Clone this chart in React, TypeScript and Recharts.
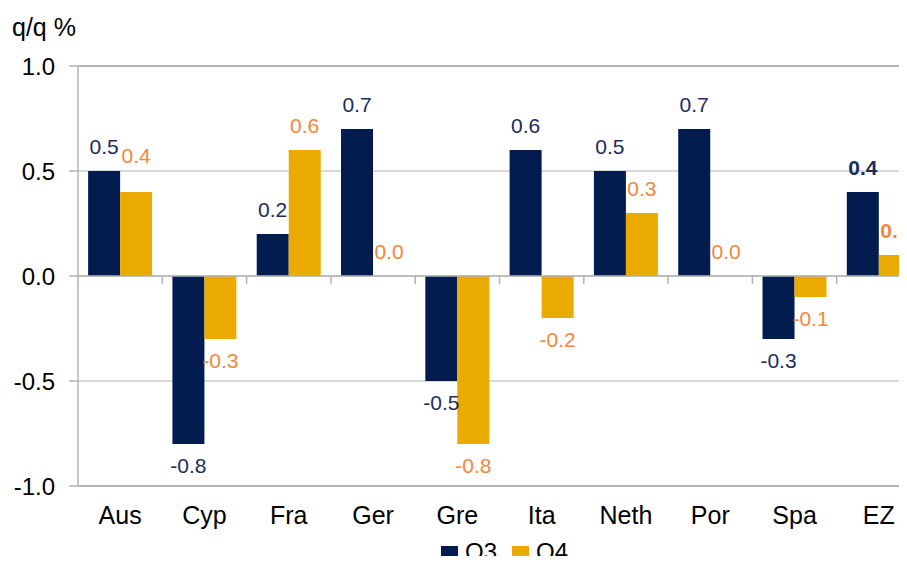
import { BarChart, Bar, XAxis, YAxis, CartesianGrid, ReferenceLine, Legend, LabelList } from 'recharts';

const countries = ['Aus', 'Cyp', 'Fra', 'Ger', 'Gre', 'Ita', 'Neth', 'Por', 'Spa', 'EZ'];
const q3 = [0.5, -0.8, 0.2, 0.7, -0.5, 0.6, 0.5, 0.7, -0.3, 0.4];
const q4 = [0.4, -0.3, 0.6, 0.0, -0.8, -0.2, 0.3, 0.0, -0.1, 0.1];
const yTicks = [-1, -0.5, 0, 0.5, 1];

const NAVY = '#031c50';
const GOLD = '#ebaa00';
const ORANGE = '#f5863a';
const NAVY_TEXT = '#1a2c5e';
const GREY = '#b3b3b3';
const FONT = '"Liberation Sans", Arial, sans-serif';

const chartData = countries.map((name, i) => ({ name, Q3: q3[i], Q4: q4[i] }));

// value labels: above positive bars, below negative ones; EZ shown in bold
function makeLabel(color: string, lift0: number) {
  return (props: any) => {
    const { x, y, width, height, value, index } = props;
    const v = Number(value);
    const h = Number(height) || 0;
    const top = Math.min(y, y + h);
    const bottom = Math.max(y, y + h);
    const ty = v < 0 ? bottom + 29 : top - 17 - (index === 0 ? lift0 : 0);
    return (
      <text
        x={x + width / 2}
        y={ty}
        textAnchor="middle"
        fill={color}
        fontSize={21}
        fontFamily={FONT}
        fontWeight={index === countries.length - 1 ? 'bold' : 'normal'}
      >
        {v.toFixed(1)}
      </text>
    );
  };
}

// zero line with small tick marks at the category boundaries
function ZeroAxis(props: any) {
  const { x1, y1, x2 } = props;
  const step = (x2 - x1) / countries.length;
  return (
    <g>
      <line x1={x1} y1={y1} x2={x2} y2={y1} stroke={GREY} strokeWidth={1.5} />
      {countries.map((c, i) => (
        <line key={c} x1={x1 + step * (i + 1)} y1={y1} x2={x1 + step * (i + 1)} y2={y1 + 8} stroke={GREY} strokeWidth={1.5} />
      ))}
    </g>
  );
}

function LegendBox({ payload }: any) {
  return (
    <div style={{ display: 'flex', alignItems: 'flex-start', marginLeft: 441, fontFamily: FONT, fontSize: 24, lineHeight: '24px', color: '#000' }}>
      {(payload || []).map((p: any) => (
        <div key={p.value} style={{ display: 'flex', alignItems: 'flex-start', marginRight: 15 }}>
          <span style={{ display: 'inline-block', width: 17, height: 17, background: p.color, marginRight: 7, marginTop: 6 }} />
          <span>{p.value}</span>
        </div>
      ))}
    </div>
  );
}

export default function App() {
  return (
    <div style={{ margin: -8, width: 907, height: 564, overflow: 'hidden', position: 'relative', background: '#fff' }}>
      <div style={{ position: 'absolute', left: 12, top: 15, fontFamily: FONT, fontSize: 25, lineHeight: '25px', color: '#000' }}>
        q/q %
      </div>
      <BarChart
        width={940}
        height={564}
        data={chartData}
        margin={{ top: 66, right: 19, bottom: 0, left: 0 }}
        barCategoryGap="12%"
        barGap={0}
      >
        <CartesianGrid horizontal vertical={false} stroke={GREY} strokeWidth={1} />
        <ReferenceLine y={1} stroke={GREY} strokeWidth={2} />
        <ReferenceLine y={-1} stroke={GREY} strokeWidth={2} />
        <XAxis
          dataKey="name"
          axisLine={false}
          tickLine={false}
          height={48}
          tickMargin={14}
          tick={{ fontSize: 25, fill: '#000', fontFamily: FONT }}
        />
        <YAxis
          width={78}
          domain={[-1, 1]}
          ticks={yTicks}
          tickFormatter={(v: number) => v.toFixed(1)}
          axisLine={{ stroke: GREY, strokeWidth: 1.5 }}
          tickLine={{ stroke: GREY, strokeWidth: 1.5 }}
          tickSize={9}
          tickMargin={14}
          tick={{ fontSize: 24, fill: '#000', fontFamily: FONT }}
        />
        <Legend
          verticalAlign="bottom"
          height={30}
          wrapperStyle={{ top: 540, bottom: 'auto', left: 0 }}
          content={<LegendBox />}
        />
        <Bar dataKey="Q3" fill={NAVY} isAnimationActive={false}>
          <LabelList dataKey="Q3" content={makeLabel(NAVY_TEXT, 0)} />
        </Bar>
        <Bar dataKey="Q4" fill={GOLD} isAnimationActive={false} minPointSize={(v: number) => (v === 0 ? 0.01 : 0)}>
          <LabelList dataKey="Q4" content={makeLabel(ORANGE, 12)} />
        </Bar>
        <ReferenceLine y={0} shape={<ZeroAxis />} />
      </BarChart>
    </div>
  );
}
